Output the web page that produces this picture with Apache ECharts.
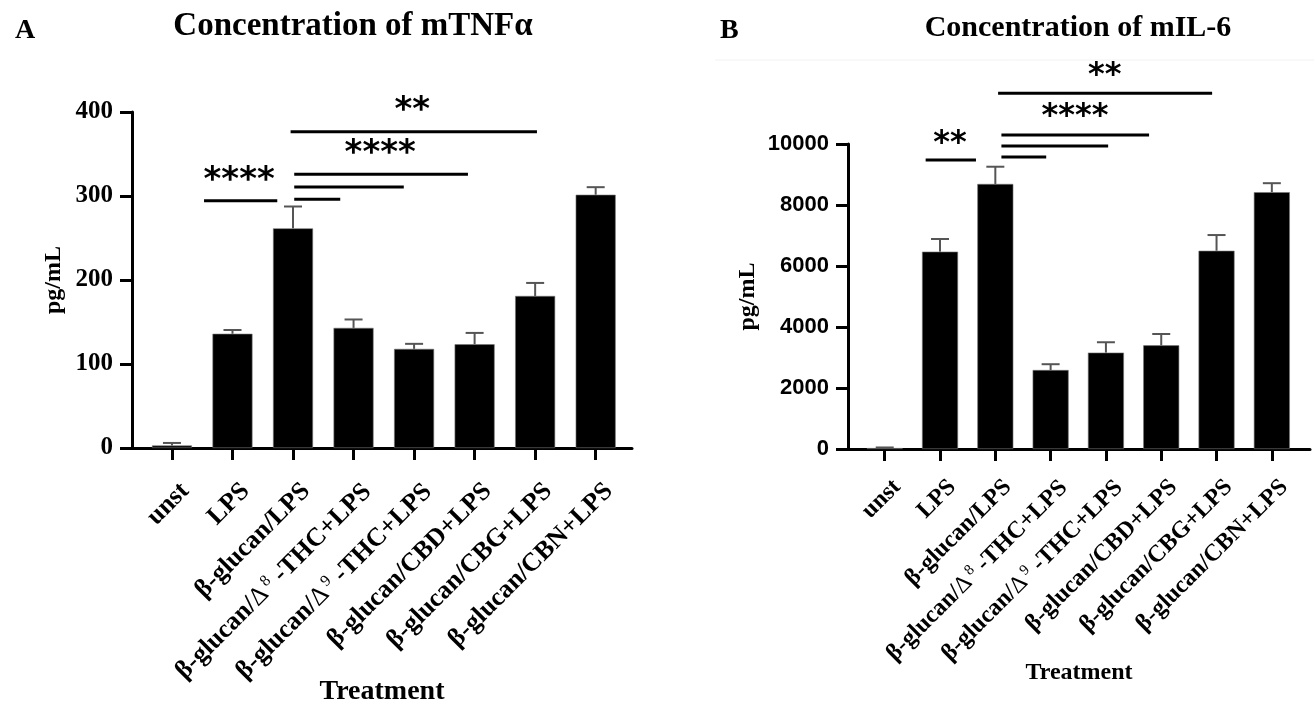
<!DOCTYPE html>
<html>
<head>
<meta charset="utf-8">
<script src="https://cdn.jsdelivr.net/npm/echarts@6/dist/echarts.min.js"></script>
<style>
html, body { margin: 0; padding: 0; background: #fff; }
#main { width: 1314px; height: 708px; }
</style>
</head>
<body>
<div id="main"></div>
<script>
// ---- data ----
const categories = ['unst', 'LPS', 'β-glucan/LPS', 'β-glucan/Δ8-THC+LPS', 'β-glucan/Δ9-THC+LPS',
    'β-glucan/CBD+LPS', 'β-glucan/CBG+LPS', 'β-glucan/CBN+LPS'];

const tnfMean = [3, 136, 261.5, 143, 118, 123.5, 181, 301.5];
const tnfErr = [3, 4.5, 26, 10, 6, 13.5, 15.5, 9];
const tnfTicks = [0, 100, 200, 300, 400];

const il6Mean = [30, 6470, 8690, 2590, 3160, 3400, 6500, 8420];
const il6Err = [20, 415, 565, 190, 340, 370, 515, 295];
const il6Ticks = [0, 2000, 4000, 6000, 8000, 10000];

// significance brackets: [fromX, toX, y] and stars: [x, y, text]
const tnfSigLines = [[1.96, 6.03, 376.5], [2.02, 4.89, 326], [2.02, 3.83, 310.7], [2.02, 2.78, 296], [0.53, 1.74, 294.4]];
const tnfSigStars = [[3.97, 408, '**'], [3.44, 357, '****'], [1.11, 325, '****']];
const il6SigLines = [[2.05, 5.92, 11662], [2.11, 4.78, 10295], [2.11, 4.04, 9934], [2.11, 2.92, 9574], [0.74, 1.65, 9475]];
const il6SigStars = [[3.98, 12426, '**'], [3.44, 11082, '****'], [1.18, 10220, '**']];

const SERIF = 'Liberation Serif';
const SANS = 'Liberation Sans';
const idx = categories.map((c, i) => i);

function fmtCat(v) {
    const name = categories[Math.round(v)];
    if (name === undefined) return '';
    return name.replace(/Δ(\d)/, '{d|Δ}{s|$1} ');
}

function panel(g, opt) {
    const xAxes = [
        {
            type: 'value', gridIndex: g, position: 'bottom', min: opt.xmin, max: opt.xmax,
            axisLine: { show: true, onZero: false, lineStyle: { color: '#000', width: 3 } },
            axisTick: { show: true, customValues: idx, length: 12, lineStyle: { color: '#000', width: 3 } },
            axisLabel: { show: false },
            splitLine: { show: false },
            name: 'Treatment', nameLocation: 'middle', nameGap: opt.nameGapX,
            nameTextStyle: { fontFamily: SERIF, fontWeight: 'bold', fontSize: opt.nameSizeX, color: '#000' }
        },
        {
            // label-only axis, nudged a few px right like the original
            type: 'value', gridIndex: g, position: 'bottom', min: opt.xmin - opt.shift, max: opt.xmax - opt.shift,
            axisLine: { show: false, onZero: false }, axisTick: { show: false }, splitLine: { show: false },
            axisLabel: {
                customValues: idx, rotate: 45, margin: opt.labelMargin,
                align: 'right', verticalAlign: 'top',
                fontFamily: SERIF, fontWeight: 'bold', fontSize: opt.catSize, color: '#000',
                formatter: fmtCat,
                rich: {
                    d: { fontFamily: SERIF, fontWeight: 'normal', fontSize: opt.catSize, color: '#000' },
                    s: { fontFamily: SERIF, fontWeight: 'normal', fontSize: Math.round(opt.catSize * 0.62), color: '#000', padding: [0, 0, Math.round(opt.catSize * 0.45), 3] }
                }
            }
        }
    ];
    const yAxis = {
        type: 'value', gridIndex: g, min: opt.ticks[0], max: opt.ticks[opt.ticks.length - 1],
        interval: opt.ticks[1] - opt.ticks[0],
        axisLine: { show: true, onZero: false, lineStyle: { color: '#000', width: 3 } },
        axisTick: { show: true, length: 12, lineStyle: { color: '#000', width: 3 } },
        axisLabel: {
            margin: 19, fontFamily: opt.yFont, fontWeight: 'bold', fontSize: opt.ySize, color: '#000',
            formatter: v => String(v)
        },
        splitLine: { show: false },
        name: 'pg/mL', nameLocation: 'middle', nameGap: opt.nameGapY,
        nameTextStyle: { fontFamily: SERIF, fontWeight: 'bold', fontSize: 24, color: '#000' }
    };
    const xi = g * 2;
    const series = [
        {
            type: 'bar', xAxisIndex: xi, yAxisIndex: g, barWidth: opt.barWidth,
            itemStyle: { color: '#000', borderColor: '#777', borderWidth: 0.6 },
            data: opt.mean.map((v, i) => [i, v]),
            z: 2
        },
        {
            type: 'custom', xAxisIndex: xi, yAxisIndex: g, z: 3,
            encode: { x: 0, y: 1 },
            data: opt.mean.map((v, i) => [i, v, v + opt.err[i]]),
            renderItem: function (params, api) {
                const base = api.coord([api.value(0), api.value(1)]);
                const top = api.coord([api.value(0), api.value(2)]);
                const st = { stroke: '#555', lineWidth: 2 };
                return {
                    type: 'group', children: [
                        { type: 'line', shape: { x1: base[0], y1: base[1], x2: top[0], y2: top[1] }, style: st },
                        { type: 'line', shape: { x1: top[0] - 9, y1: top[1], x2: top[0] + 9, y2: top[1] }, style: st }
                    ]
                };
            }
        },
        {
            type: 'custom', xAxisIndex: xi, yAxisIndex: g, z: 4,
            encode: { x: [0, 1], y: 2 },
            data: opt.sigLines,
            renderItem: function (params, api) {
                const a = api.coord([api.value(0), api.value(2)]);
                const b = api.coord([api.value(1), api.value(2)]);
                return { type: 'line', shape: { x1: a[0], y1: a[1], x2: b[0], y2: b[1] }, style: { stroke: '#000', lineWidth: 3 } };
            }
        },
        {
            type: 'custom', xAxisIndex: xi, yAxisIndex: g, z: 4,
            encode: { x: 0, y: 1 },
            data: opt.sigStars.map(s => [s[0], s[1]]),
            renderItem: function (params, api) {
                const p = api.coord([api.value(0), api.value(1)]);
                return {
                    type: 'text', x: p[0], y: p[1] + 6,
                    style: {
                        text: opt.sigStars[params.dataIndex][2], align: 'center', verticalAlign: 'middle',
                        font: 'bold ' + opt.starSize + 'px "DejaVu Sans"', fill: '#000'
                    }
                };
            }
        }
    ];
    return { xAxes, yAxis, series };
}

const left = panel(0, {
    xmin: -0.66, xmax: 7.6, shift: 0.066, labelMargin: 30, catSize: 26,
    nameGapX: 230, nameSizeX: 28, nameGapY: 66, yFont: SERIF, ySize: 25,
    ticks: tnfTicks, mean: tnfMean, err: tnfErr, barWidth: 40, starSize: 34,
    sigLines: tnfSigLines, sigStars: tnfSigStars
});
const right = panel(1, {
    xmin: -0.664, xmax: 7.69, shift: 0.07, labelMargin: 26, catSize: 24,
    nameGapX: 212, nameSizeX: 24, nameGapY: 88, yFont: SANS, ySize: 22,
    ticks: il6Ticks, mean: il6Mean, err: il6Err, barWidth: 36, starSize: 32,
    sigLines: il6SigLines, sigStars: il6SigStars
});

const chart = echarts.init(document.getElementById('main'), null, { renderer: 'canvas' });
chart.setOption({
    backgroundColor: '#fff',
    animation: false,
    title: [
        { text: 'A', left: 10, top: 12, textStyle: { fontFamily: SERIF, fontWeight: 'bold', fontSize: 28, color: '#000' } },
        { text: 'Concentration of mTNFα', left: 348, top: 5, textAlign: 'center', textStyle: { fontFamily: SERIF, fontWeight: 'bold', fontSize: 33, color: '#000' } },
        { text: 'B', left: 715, top: 12, textStyle: { fontFamily: SERIF, fontWeight: 'bold', fontSize: 28, color: '#000' } },
        { text: 'Concentration of mIL-6', left: 1073, top: 8, textAlign: 'center', textStyle: { fontFamily: SERIF, fontWeight: 'bold', fontSize: 30, color: '#000' } }
    ],
    graphic: [
        { type: 'line', shape: { x1: 715, y1: 60, x2: 1314, y2: 60 }, style: { stroke: '#f2f2f2', lineWidth: 1 }, silent: true }
    ],
    grid: [
        { left: 132, top: 112, width: 500, height: 336 },
        { left: 848, top: 144, width: 462, height: 305 }
    ],
    xAxis: left.xAxes.concat(right.xAxes),
    yAxis: [left.yAxis, right.yAxis],
    series: left.series.concat(right.series)
});
</script>
</body>
</html>
